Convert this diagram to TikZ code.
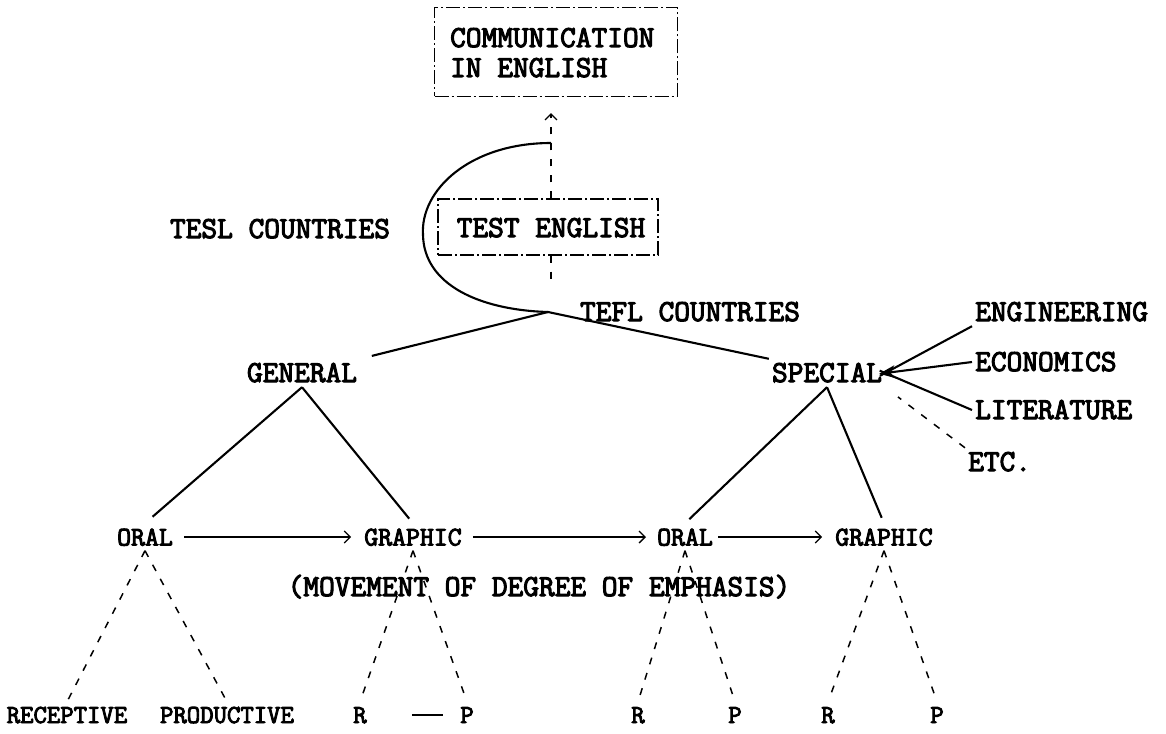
\documentclass[tikz,border=0pt]{standalone}
\usepackage{fontspec}
\newfontfamily\typew{Latin Modern Mono}[FakeBold=3.5]
\usetikzlibrary{arrows.meta}
\tikzset{
  txt/.style={font=\typew\fontsize{30.5}{34}\selectfont, inner xsep=3pt, inner ysep=5pt, text height=18pt, text depth=0pt},
  midtxt/.style={txt, font=\typew\fontsize{27}{31}\selectfont, text height=17pt},
  lowtxt/.style={txt, font=\typew\fontsize{26}{30}\selectfont, text height=16pt},
  boxed/.style={draw, line width=1.1pt, dash pattern=on 14pt off 3pt on 2pt off 3pt, inner sep=0pt},
  solidline/.style={line width=2.1pt},
  dashline/.style={line width=1.5pt, dash pattern=on 7pt off 9pt},
  openarrow/.style={-{Straight Barb[length=6pt,width=12pt,line width=1.3pt]}},
}
\begin{document}
\begin{tikzpicture}[x=1pt,y=-1pt]
\useasboundingbox (0,0) rectangle (1166,733);
% boxes
\node[boxed, minimum width=243pt, minimum height=89pt] (comm) at (556,52) {};
\node[txt, anchor=west] (commtxt) at (447,38) {COMMUNICATION};
\node[txt, anchor=west] (intxt) at (447,68) {IN ENGLISH};
\node[boxed, minimum width=220pt, minimum height=56pt] (test) at (548,227) {};
\node[txt] (testtxt) at (551,228) {TEST ENGLISH};
% labels
\node[txt] (tesl) at (280,229) {TESL COUNTRIES};
\node[txt] (tefl) at (690,312) {TEFL COUNTRIES};
\coordinate (J) at (548,312);
\coordinate (T) at (551,143);
% tree nodes
\node[txt] (general) at (302,373) {GENERAL};
\node[txt] (special) at (827,373) {SPECIAL};
\node[txt, anchor=west] (eng) at (972,312) {ENGINEERING};
\node[txt, anchor=west] (econ) at (972,362) {ECONOMICS};
\node[txt, anchor=west] (lit) at (972,410) {LITERATURE};
\node[txt, anchor=west] (etc) at (965,462) {ETC.};
\node[midtxt] (oral1) at (145,537) {ORAL};
\node[midtxt] (graphic1) at (413,537) {GRAPHIC};
\node[midtxt] (oral2) at (685,537) {ORAL};
\node[midtxt] (graphic2) at (884,537) {GRAPHIC};
\node[txt] (movement) at (539,587) {(MOVEMENT OF DEGREE OF EMPHASIS)};
\node[lowtxt] (receptive) at (67,715) {RECEPTIVE};
\node[lowtxt] (productive) at (227,715) {PRODUCTIVE};
\node[lowtxt] (r1) at (360,715) {R};
\node[lowtxt] (p1) at (467,715) {P};
\node[lowtxt] (r2) at (638,715) {R};
\node[lowtxt] (p2) at (735,715) {P};
\node[lowtxt] (r3) at (828,715) {R};
\node[lowtxt] (p3) at (937,715) {P};
% curve and vertical dashed line
\draw[solidline] (T) .. controls (470,143) and (420,190) .. (423,235)
  .. controls (424,285) and (480,310) .. (J);
\draw[dashline, openarrow, shorten >=16pt] (test.north -| T) -- (comm.south -| T);
\draw[dashline] (test.south -| T) -- ([yshift=28pt]J -| T);
% top tree
\draw[solidline, shorten >=12pt] (J) -- (general.north east);
\draw[solidline] (J) -- (special.north west);
\draw[solidline, shorten >=10pt] (general.south) -- (oral1.north);
\draw[solidline, shorten >=6pt] (general.south) -- (graphic1.north);
\draw[solidline, shorten >=6pt] (special.south) -- (oral2.north);
\draw[solidline, shorten >=6pt] (special.south) -- (graphic2.north);
% special branches
\draw[solidline, -{Stealth[length=16pt,width=13pt]}, shorten >=-6pt] (econ.west) -- (special.east);
\draw[solidline, shorten >=-6pt] (eng.south west) -- (special.east);
\draw[solidline, shorten >=-6pt] (lit.west) -- (special.east);
\draw[dashline, shorten >=16pt] (etc.north west) -- (special.south east);
% movement arrows
\draw[solidline, openarrow, shorten <=8pt, shorten >=10pt] (oral1.east) -- (graphic1.west);
\draw[solidline, openarrow, shorten <=8pt, shorten >=8pt] (graphic1.east) -- (oral2.west);
\draw[solidline, openarrow, shorten <=2pt, shorten >=10pt] (oral2.east) -- (graphic2.west);
% lower dashed branches
\draw[dashline, shorten >=2pt] (oral1.south) -- (receptive.north);
\draw[dashline, shorten >=2pt] (oral1.south) -- (productive.north);
\draw[dashline, shorten >=2pt] (graphic1.south) -- (r1.north);
\draw[dashline, shorten >=2pt] (graphic1.south) -- (p1.north);
\draw[dashline, shorten >=2pt] (oral2.south) -- (r2.north);
\draw[dashline, shorten >=2pt] (oral2.south) -- (p2.north);
\draw[dashline, shorten >=2pt] (graphic2.south) -- (r3.north);
\draw[dashline, shorten >=2pt] (graphic2.south) -- (p3.north);
\draw[line width=1.4pt, shorten <=42pt, shorten >=14pt] (r1.east) -- (p1.west);
\end{tikzpicture}
\end{document}
